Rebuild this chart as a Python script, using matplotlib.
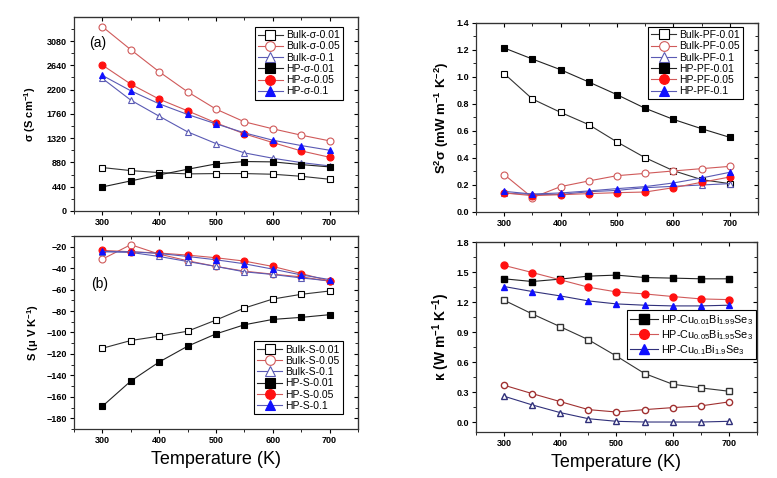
import matplotlib
matplotlib.use("Agg")
import matplotlib.pyplot as plt
from matplotlib.ticker import MultipleLocator

plt.rcParams['font.family'] = ['Liberation Sans', 'DejaVu Sans']
plt.rcParams['mathtext.default'] = 'regular'

# temperatures (K)
temps = [300, 350, 400, 450, 500, 550, 600, 650, 700]

# (a) electrical conductivity, S cm^-1
sigma_bulk_001 = [787, 732, 696, 672, 678, 678, 666, 629, 575]
sigma_bulk_005 = [3340, 2923, 2523, 2160, 1846, 1616, 1489, 1374, 1271]
sigma_bulk_01 = [2402, 2009, 1718, 1434, 1222, 1053, 956, 877, 817]
sigma_hp_001 = [436, 545, 654, 756, 853, 896, 890, 841, 799]
sigma_hp_005 = [2644, 2299, 2027, 1815, 1597, 1398, 1240, 1089, 974]
sigma_hp_01 = [2457, 2178, 1942, 1749, 1579, 1416, 1283, 1186, 1101]

# (b) Seebeck coefficient, uV K^-1
s_bulk_001 = [-114.7, -107.5, -103.4, -98.8, -88.4, -77.2, -68.8, -64.4, -61.3]
s_bulk_005 = [-31.6, -18.1, -26.9, -33.1, -38.4, -42.8, -45.6, -48.1, -52.2]
s_bulk_01 = [-24.7, -25.3, -29.1, -33.8, -38.4, -43.4, -45.9, -49.1, -51.9]
s_hp_001 = [-168.8, -145.3, -127.5, -112.8, -101.3, -92.8, -87.8, -85.9, -83.4]
s_hp_005 = [-23.4, -24.7, -25.9, -27.8, -30.3, -33.4, -38.4, -45.0, -51.9]
s_hp_01 = [-24.4, -24.7, -26.3, -29.1, -32.2, -35.9, -40.9, -46.3, -50.6]

# (c) power factor, mW m^-1 K^-2
pf_bulk_001 = [1.025, 0.837, 0.738, 0.647, 0.519, 0.402, 0.306, 0.240, 0.210]
pf_bulk_005 = [0.277, 0.106, 0.188, 0.230, 0.269, 0.286, 0.304, 0.321, 0.338]
pf_bulk_01 = [0.140, 0.130, 0.130, 0.150, 0.160, 0.180, 0.190, 0.200, 0.210]
pf_hp_001 = [1.215, 1.133, 1.054, 0.963, 0.869, 0.768, 0.686, 0.617, 0.553]
pf_hp_005 = [0.141, 0.121, 0.128, 0.136, 0.143, 0.148, 0.180, 0.220, 0.259]
pf_hp_01 = [0.153, 0.133, 0.141, 0.156, 0.173, 0.188, 0.215, 0.252, 0.294]

# (d) thermal conductivity, W m^-1 K^-1
k_hp_001 = [1.432, 1.405, 1.429, 1.459, 1.469, 1.445, 1.439, 1.432, 1.432]
k_hp_005 = [1.566, 1.495, 1.422, 1.348, 1.301, 1.281, 1.255, 1.231, 1.224]
k_hp_01 = [1.355, 1.305, 1.261, 1.211, 1.181, 1.168, 1.161, 1.161, 1.168]
k_sq_open = [1.218, 1.081, 0.953, 0.823, 0.659, 0.485, 0.378, 0.341, 0.308]
k_ci_open = [0.368, 0.284, 0.204, 0.124, 0.100, 0.124, 0.144, 0.161, 0.201]
k_tr_open = [0.258, 0.171, 0.094, 0.033, 0.007, 0.0, 0.0, 0.0, 0.007]

k_labels = ['HP-Cu$_{0.01}$Bi$_{1.99}$Se$_3$',
            'HP-Cu$_{0.05}$Bi$_{1.95}$Se$_3$',
            'HP-Cu$_{0.1}$Bi$_{1.9}$Se$_3$']

PINK = '#d05a5a'
LBLUE = '#5a5ab4'
RED = '#ff1010'
BLUE = '#1010ff'
DRED = '#a03030'
NAVY = '#30307a'

# style for the six series: bulk 0.01, 0.05, 0.1, hp 0.01, 0.05, 0.1
styles = [
    dict(marker='s', mfc='white', mec='black', color='#333333'),
    dict(marker='o', mfc='white', mec=PINK, color=PINK),
    dict(marker='^', mfc='white', mec=LBLUE, color=LBLUE),
    dict(marker='s', mfc='black', mec='black', color='#222222'),
    dict(marker='o', mfc=RED, mec=RED, color=PINK),
    dict(marker='^', mfc=BLUE, mec=BLUE, color=LBLUE),
]

fig = plt.figure(figsize=(7.77, 4.78), dpi=100)
ax_a = fig.add_axes([0.0952, 0.5586, 0.3655, 0.4058])
ax_b = fig.add_axes([0.0952, 0.1025, 0.3655, 0.4038])
ax_c = fig.add_axes([0.6126, 0.5565, 0.3629, 0.3954])
ax_d = fig.add_axes([0.6126, 0.0962, 0.3616, 0.3975])


def style_axes(ax, ymin, ymax, ymajor, yminor, yfmt):
    ax.set_xlim(250, 750)
    ax.set_ylim(ymin, ymax)
    ax.xaxis.set_major_locator(MultipleLocator(100))
    ax.xaxis.set_minor_locator(MultipleLocator(50))
    ax.yaxis.set_major_locator(MultipleLocator(ymajor))
    ax.yaxis.set_minor_locator(MultipleLocator(yminor))
    ax.yaxis.set_major_formatter(yfmt)
    ax.tick_params(which='major', direction='out', length=3, width=0.8,
                   labelsize=6.5, pad=2)
    ax.tick_params(which='minor', direction='out', length=2, width=0.6)
    for lab in ax.get_xticklabels() + ax.get_yticklabels():
        lab.set_fontweight('bold')
    for sp in ax.spines.values():
        sp.set_linewidth(0.9)
        sp.set_color('#333333')
    # ticks pointing in on the top and right sides
    top = ax.secondary_xaxis('top')
    top.xaxis.set_major_locator(MultipleLocator(100))
    top.xaxis.set_minor_locator(MultipleLocator(50))
    top.tick_params(which='both', direction='in', labeltop=False)
    top.tick_params(which='major', length=3)
    top.tick_params(which='minor', length=2)
    right = ax.secondary_yaxis('right')
    right.yaxis.set_major_locator(MultipleLocator(ymajor))
    right.yaxis.set_minor_locator(MultipleLocator(yminor))
    right.tick_params(which='both', direction='in', labelright=False)
    right.tick_params(which='major', length=3)
    right.tick_params(which='minor', length=2)


def draw_six(ax, series, labels, loc, anchor, fs=7.5):
    for ys, st, lab in zip(series, styles, labels):
        ax.plot(temps, ys, lw=0.8, ms=5, mew=0.8, label=lab, **st)
    leg = ax.legend(loc=loc, bbox_to_anchor=anchor, fontsize=fs,
                    frameon=True, fancybox=False, edgecolor='black',
                    framealpha=1, markerscale=1.4, handlelength=2.4,
                    handletextpad=0.3, labelspacing=0.12, borderpad=0.3,
                    borderaxespad=0)
    leg.get_frame().set_linewidth(0.8)
    return leg


# (a)
style_axes(ax_a, 0, 3515, 440, 220, '{x:.0f}')
draw_six(ax_a,
         [sigma_bulk_001, sigma_bulk_005, sigma_bulk_01,
          sigma_hp_001, sigma_hp_005, sigma_hp_01],
         ['Bulk-σ-0.01', 'Bulk-σ-0.05', 'Bulk-σ-0.1',
          'HP-σ-0.01', 'HP-σ-0.05', 'HP-σ-0.1'],
         'upper right', (0.947, 0.948))
ax_a.text(277, 3040, '(a)', fontsize=10, va='center')
ax_a.set_ylabel('σ (S cm$^{-1}$)', fontsize=8, fontweight='bold', labelpad=6)

# (b)
style_axes(ax_b, -190, -10, 20, 10, '{x:.0f}')
draw_six(ax_b,
         [s_bulk_001, s_bulk_005, s_bulk_01, s_hp_001, s_hp_005, s_hp_01],
         ['Bulk-S-0.01', 'Bulk-S-0.05', 'Bulk-S-0.1',
          'HP-S-0.01', 'HP-S-0.05', 'HP-S-0.1'],
         'lower right', (0.947, 0.078))
ax_b.text(281, -55, '(b)', fontsize=10, va='center')
ax_b.set_ylabel('S (μ V K$^{-1}$)', fontsize=8, fontweight='bold', labelpad=4)
ax_b.set_xlabel('Temperature (K)', fontsize=13, labelpad=4)

# (c)
style_axes(ax_c, 0, 1.4, 0.2, 0.1, '{x:.1f}')
draw_six(ax_c,
         [pf_bulk_001, pf_bulk_005, pf_bulk_01,
          pf_hp_001, pf_hp_005, pf_hp_01],
         ['Bulk-PF-0.01', 'Bulk-PF-0.05', 'Bulk-PF-0.1',
          'HP-PF-0.01', 'HP-PF-0.05', 'HP-PF-0.1'],
         'upper right', (0.947, 0.979))
ax_c.set_ylabel('S$^2$σ (mW m$^{-1}$ K$^{-2}$)', fontsize=9.5,
                fontweight='bold', labelpad=4)

# (d)
style_axes(ax_d, -0.1, 1.8, 0.3, 0.15, '{x:.1f}')
h1, = ax_d.plot(temps, k_hp_001, lw=0.8, ms=5, marker='s', color='#222222',
                mfc='black', mec='black', label=k_labels[0])
h2, = ax_d.plot(temps, k_hp_005, lw=0.8, ms=5, marker='o', color=PINK,
                mfc=RED, mec=RED, label=k_labels[1])
h3, = ax_d.plot(temps, k_hp_01, lw=0.8, ms=5, marker='^', color=NAVY,
                mfc=BLUE, mec=BLUE, label=k_labels[2])
ax_d.plot(temps, k_sq_open, lw=0.8, ms=4.5, marker='s', color='#333333',
          mfc='white', mec='#333333')
ax_d.plot(temps, k_ci_open, lw=0.8, ms=4.5, marker='o', color=DRED,
          mfc='white', mec=DRED)
ax_d.plot(temps, k_tr_open, lw=0.8, ms=4.5, marker='^', color=NAVY,
          mfc='white', mec=NAVY)
leg = ax_d.legend(handles=[h1, h2, h3], loc='upper left',
                  bbox_to_anchor=(0.537, 0.64), fontsize=7.8, frameon=True,
                  fancybox=False, edgecolor='black', framealpha=1,
                  markerscale=1.4, handlelength=2.6, handletextpad=0.3,
                  labelspacing=0.1, borderpad=0.25, borderaxespad=0)
leg.get_frame().set_linewidth(0.8)
ax_d.set_ylabel('κ (W m$^{-1}$ K$^{-1}$)', fontsize=10, fontweight='bold',
                labelpad=3)
ax_d.set_xlabel('Temperature (K)', fontsize=13, labelpad=4)

fig.savefig('out.png', dpi=100)
